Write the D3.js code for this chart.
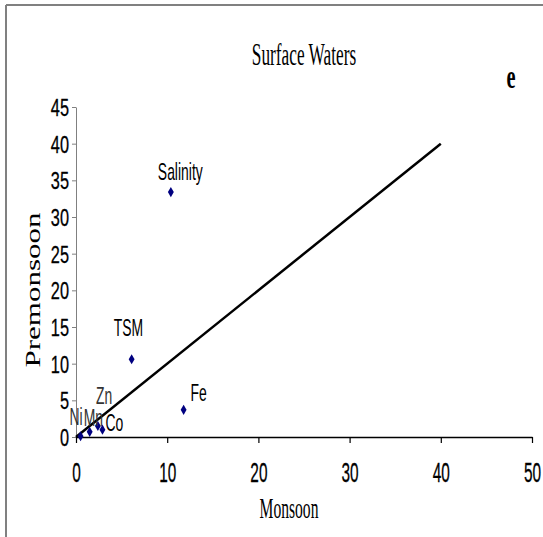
<!DOCTYPE html>
<html>
<head>
<meta charset="utf-8">
<script src="https://cdn.jsdelivr.net/npm/d3@7"></script>
<style>
  html, body { margin: 0; padding: 0; background: #fff; }
  svg { display: block; }
</style>
</head>
<body>
<svg id="chart" width="543" height="537"></svg>
<script>
// ---- data ----
const names = ["Salinity", "TSM", "Fe", "Zn", "Co", "Mn", "Ni"];
const monsoon = [10.4, 6.1, 11.8, 2.4, 2.9, 1.5, 0.5];
const premonsoon = [33.4, 10.6, 3.7, 1.5, 1.0, 0.7, 0.1];
const xTicks = [0, 10, 20, 30, 40, 50];
const yTicks = [0, 5, 10, 15, 20, 25, 30, 35, 40, 45];
const lineX = [0, 40];   // 1:1 reference line
const lineY = [0, 40];

// label offsets (layout, pixels relative to point)
const labelOffset = {
  Salinity: [-13, -12], TSM: [-18, -23], Fe: [7, -9],
  Zn: [-2, -22], Co: [3, 1], Mn: [-6, -6], Ni: [-11, -11]
};

const svg = d3.select("#chart");
svg.append("rect").attr("width", 543).attr("height", 537).attr("fill", "#fff");

// frame
svg.append("line").attr("x1", 6).attr("x2", 543).attr("y1", 5).attr("y2", 5)
  .attr("stroke", "#808080").attr("stroke-width", 2);
svg.append("line").attr("x1", 6).attr("x2", 6).attr("y1", 5).attr("y2", 537)
  .attr("stroke", "#808080").attr("stroke-width", 2);

const x = d3.scaleLinear().domain([0, 50]).range([76, 532]);
const y = d3.scaleLinear().domain([0, 45]).range([437, 107]);

const sans = "'Liberation Sans', Arial, sans-serif";
const serif = "'Liberation Serif', 'Times New Roman', serif";

// y axis
const gy = svg.append("g").attr("transform", `translate(${x(0)},0)`)
  .call(d3.axisLeft(y).tickValues(yTicks).tickSize(4).tickSizeOuter(0).tickFormat(d3.format("d")));
gy.select(".domain").attr("stroke", "#808080").attr("stroke-width", 1);
gy.selectAll(".tick line").attr("stroke", "#808080");
gy.selectAll(".tick text")
  .attr("x", 0).attr("dy", "0.36em")
  .attr("transform", "translate(-7,0) scale(0.68,1)")
  .attr("font-family", sans).attr("font-size", 24).attr("fill", "#000")
  .attr("stroke", "#000").attr("stroke-width", 0.3);

// x axis
const gx = svg.append("g").attr("transform", `translate(0,${y(0)})`)
  .call(d3.axisBottom(x).tickValues(xTicks).tickSize(6).tickSizeOuter(0).tickFormat(d3.format("d")));
gx.select(".domain").attr("stroke", "#000").attr("stroke-width", 1.5);
gx.selectAll(".tick line").attr("stroke", "#000").attr("stroke-width", 1.2);
gx.selectAll(".tick text")
  .attr("y", 0).attr("dy", 0)
  .attr("transform", "translate(0,45) scale(0.55,1)")
  .attr("font-family", sans).attr("font-size", 28).attr("fill", "#000")
  .attr("stroke", "#000").attr("stroke-width", 0.3);

// reference line
svg.append("path")
  .datum(lineX.map((v, i) => [v, lineY[i]]))
  .attr("d", d3.line().x(d => x(d[0])).y(d => y(d[1])))
  .attr("fill", "none").attr("stroke", "#000").attr("stroke-width", 2.5);

// points
const pts = names.map((n, i) => ({ name: n, mx: monsoon[i], py: premonsoon[i] }));
svg.selectAll("path.pt").data(pts).enter().append("path")
  .attr("class", "pt")
  .attr("d", d3.symbol(d3.symbolDiamond, 30))
  .attr("transform", d => `translate(${x(d.mx)},${y(d.py)})`)
  .attr("fill", "#000080");

// point labels
svg.selectAll("text.lbl").data(pts).enter().append("text")
  .attr("class", "lbl")
  .attr("transform", d => `translate(${x(d.mx) + labelOffset[d.name][0]},${y(d.py) + labelOffset[d.name][1]}) scale(0.58,1)`)
  .attr("font-family", sans).attr("font-size", 24)
  .attr("fill", d => ["Ni", "Mn", "Zn"].includes(d.name) ? "#333" : "#000")
  .text(d => d.name);

// title
svg.append("text")
  .attr("transform", "translate(304,65) scale(0.54,1)")
  .attr("text-anchor", "middle")
  .attr("font-family", serif).attr("font-size", 32).attr("fill", "#000")
  .text("Surface Waters");

// panel letter
svg.append("text")
  .attr("transform", "translate(511,88) scale(0.6,1)")
  .attr("text-anchor", "middle")
  .attr("font-family", serif).attr("font-size", 34).attr("font-weight", "bold").attr("fill", "#000")
  .text("e");

// axis titles
svg.append("text")
  .attr("transform", "translate(289,518) scale(0.52,1)")
  .attr("text-anchor", "middle")
  .attr("font-family", serif).attr("font-size", 30).attr("fill", "#000")
  .text("Monsoon");

svg.append("text")
  .attr("transform", "translate(40,290) scale(0.7,1) rotate(-90)")
  .attr("text-anchor", "middle")
  .attr("font-family", serif).attr("font-size", 31).attr("fill", "#000")
  .text("Premonsoon");
</script>
</body>
</html>
